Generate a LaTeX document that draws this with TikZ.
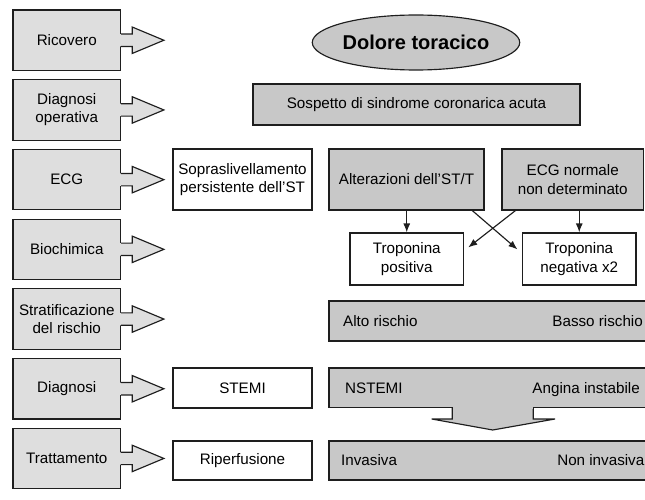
\documentclass[tikz,border=0pt]{standalone}
\usepackage{fontspec}
\setmainfont{Liberation Sans}
\usetikzlibrary{arrows.meta,shapes.geometric}
\definecolor{lgray}{HTML}{DEDEDE}
\definecolor{mgray}{HTML}{C8C8C8}
\definecolor{edge}{HTML}{1E1E1E}
\newcommand{\stagearrow}[1]{%
  \fill[lgray] ([xshift=-1.2pt]#1.east) ++(0,-6.2) -- ++(12.4,0) -- ++(0,-7) -- ++(31.6,13.2) -- ++(-31.6,13.2) -- ++(0,-7) -- ++(-12.4,0) -- cycle;
  \draw[draw=edge,line width=1.15pt,line join=miter] (#1.east) ++(0,-6.2) -- ++(11.2,0) -- ++(0,-7) -- ++(31.6,13.2) -- ++(-31.6,13.2) -- ++(0,-7) -- ++(-11.2,0);
}
\begin{document}
\begin{tikzpicture}[x=1pt,y=-1pt,
  every node/.style={font=\fontsize{15.2}{18.2}\selectfont, align=center, inner sep=0pt},
  stage/.style={draw=edge, line width=1.15pt, fill=lgray, minimum width=107.5pt, minimum height=60.5pt},
  wbox/.style={draw=edge, line width=1.15pt, fill=white},
  gbox/.style={draw=edge, line width=1.15pt, fill=mgray},
  lbl/.style={draw=none, fill=none},
  link/.style={draw=edge, line width=1.15pt, -{Latex[length=9pt,width=7pt]}},
]
\useasboundingbox (0,0) rectangle (645,500);

% left stages
\node[stage] (s1) at (66.75,40.25) {Ricovero};
\node[stage] (s2) at (66.75,109.95) {Diagnosi\\operativa};
\node[stage] (s3) at (66.75,179.65) {ECG};
\node[stage] (s4) at (66.75,249.35) {Biochimica};
\node[stage] (s5) at (66.75,319.05) {Stratificazione\\del rischio};
\node[stage] (s6) at (66.75,388.75) {Diagnosi};
\node[stage] (s7) at (66.75,458.45) {Trattamento};
\stagearrow{s1}
\stagearrow{s2}
\stagearrow{s3}
\stagearrow{s4}
\stagearrow{s5}
\stagearrow{s6}
\stagearrow{s7}

% top
\node[ellipse, draw=edge, line width=1.15pt, fill=mgray, minimum width=202pt, minimum height=55pt,
      font=\fontsize{20}{24}\selectfont\bfseries] (dolore) at (416,42.5) {Dolore toracico};
\node[gbox, minimum width=327pt, minimum height=41pt] (sospetto) at (416.5,104.5) {Sospetto di sindrome coronarica acuta};

% ECG row
\node[wbox, minimum width=139pt, minimum height=61pt] (sopra) at (242.5,179.5) {Sopraslivellamento\\persistente dell'ST};
\node[gbox, minimum width=155pt, minimum height=61pt] (alter) at (406.5,179.5) {Alterazioni dell'ST/T};
\node[gbox, minimum width=141.5pt, minimum height=61pt] (ecgn) at (572.75,179.5) {ECG normale\\non determinato};

% biochimica row
\node[wbox, minimum width=113.5pt, minimum height=52pt] (tpos) at (406.75,259) {Troponina\\positiva};
\node[wbox, minimum width=113.5pt, minimum height=52pt] (tneg) at (579.25,259) {Troponina\\negativa x2};

\draw[link] (alter.south -| tpos.north) -- (tpos.north);
\draw[link] (tneg.north |- ecgn.south) -- (tneg.north);
\draw[link] ([xshift=-12.3pt]alter.south east) -- ([xshift=-4.5pt,yshift=-17pt]tneg.north west);
\draw[link] ([xshift=14pt]ecgn.south west) -- ([xshift=4.2pt,yshift=-15pt]tpos.north east);

% risk row
\node[gbox, minimum width=317pt, minimum height=40pt] (rischio) at (487.5,321) {};
\node[lbl, anchor=base west] (alto) at (343,326.2) {Alto rischio};
\node[lbl, anchor=base east] (basso) at (643,326.2) {Basso rischio};

% diagnosis row
\node[wbox, minimum width=139pt, minimum height=40pt] (stemi) at (242.5,388) {STEMI};
\fill[mgray] (452.3,405) -- (452.3,419) -- (431.7,419) -- (492.7,430) -- (555,419) -- (533.3,419) -- (533.3,405) -- cycle;
\draw[draw=edge,line width=1.15pt] (452.3,407.5) -- (452.3,419) -- (431.7,419) -- (492.7,430) -- (555,419) -- (533.3,419) -- (533.3,407.5);
\node[gbox, minimum width=317pt, minimum height=39.5pt] (diag) at (487.5,387.75) {};
\fill[mgray] (452.9,405) rectangle (532.7,409);
\node[lbl, anchor=base west] (nstemi) at (345,393.4) {NSTEMI};
\node[lbl, anchor=base east] (angina) at (640,393.4) {Angina instabile};

% treatment row
\node[wbox, minimum width=139pt, minimum height=39pt] (riperf) at (242.5,460.5) {Riperfusione};
\node[gbox, minimum width=317pt, minimum height=39pt] (tratt) at (487.5,460.5) {};
\node[lbl, anchor=base west] (invasiva) at (341,465.8) {Invasiva};
\node[lbl, anchor=base east] (noninv) at (644.5,465.8) {Non invasiva};
\end{tikzpicture}
\end{document}
